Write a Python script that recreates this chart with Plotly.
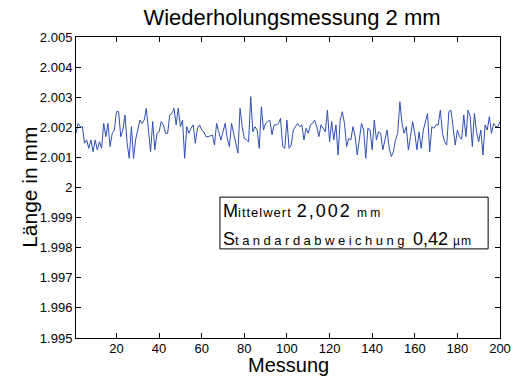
import plotly.graph_objects as go

messung = list(range(1, 201))
laenge = [
    2.0018, 2.00213, 2.00202, 2.00202, 2.00147, 2.00158, 2.0013, 2.00158, 2.00119, 2.00158,
    2.00125, 2.00152, 2.0013, 2.00213, 2.00169, 2.00213, 2.00136, 2.0018, 2.00191, 2.00252,
    2.00252, 2.00169, 2.00191, 2.00241, 2.00147, 2.00097, 2.00202, 2.00097, 2.0016, 2.00191,
    2.00224, 2.00213, 2.00224, 2.00263, 2.00191, 2.00119, 2.00219, 2.00125, 2.0018, 2.00185,
    2.00219, 2.00208, 2.0018, 2.0018, 2.00241, 2.00246, 2.00263, 2.00208, 2.00263, 2.00202,
    2.00224, 2.00097, 2.00202, 2.0018, 2.00197, 2.00208, 2.00147, 2.00197, 2.00208, 2.00191,
    2.00185, 2.00169, 2.00169, 2.00172, 2.00174, 2.00141, 2.00213, 2.00185, 2.00158, 2.00185,
    2.00213, 2.00163, 2.00136, 2.00213, 2.00185, 2.00147, 2.00114, 2.00263, 2.00202, 2.00163,
    2.00158, 2.00152, 2.00302, 2.00185, 2.00202, 2.00191, 2.0013, 2.00268, 2.00191, 2.00213,
    2.00219, 2.00224, 2.00175, 2.00208, 2.00208, 2.00213, 2.0023, 2.00136, 2.0013, 2.00224,
    2.0013, 2.00141, 2.00191, 2.00202, 2.00213, 2.00202, 2.00208, 2.00158, 2.00197, 2.0018,
    2.00208, 2.00213, 2.00224, 2.00202, 2.00169, 2.00208, 2.00197, 2.00185, 2.00257, 2.00152,
    2.00219, 2.00158, 2.00208, 2.00108, 2.00224, 2.00252, 2.00213, 2.00136, 2.00163, 2.00158,
    2.00202, 2.00169, 2.00108, 2.0016, 2.00213, 2.00191, 2.00097, 2.00197, 2.00191, 2.00125,
    2.00224, 2.00158, 2.00185, 2.0018, 2.00125, 2.00158, 2.00191, 2.0013, 2.00103, 2.0012,
    2.0016, 2.0018, 2.00285, 2.00213, 2.0018, 2.00202, 2.00125, 2.00169, 2.00219, 2.0018,
    2.00125, 2.00185, 2.0013, 2.00191, 2.00224, 2.00246, 2.00119, 2.00202, 2.00197, 2.00208,
    2.00208, 2.00257, 2.0018, 2.00152, 2.00141, 2.00252, 2.00257, 2.00191, 2.00141, 2.00191,
    2.00169, 2.0016, 2.00241, 2.00169, 2.00257, 2.00235, 2.00136, 2.00246, 2.00185, 2.00152,
    2.00191, 2.00108, 2.00208, 2.00191, 2.00235, 2.0018, 2.00213, 2.00202, 2.00202, 2.00219,
]

x_ticks = [20, 40, 60, 80, 100, 120, 140, 160, 180, 200]
y_ticks = [1.995, 1.996, 1.997, 1.998, 1.999, 2.0, 2.001, 2.002, 2.003, 2.004, 2.005]
y_ticklabels = ["1.995", "1.996", "1.997", "1.998", "1.999", "2",
                "2.001", "2.002", "2.003", "2.004", "2.005"]

title_text = "Wiederholungsmessung 2 mm"
x_title = "Messung"
y_title = "Länge in mm"
box_line1 = ("M<span style='font-size:13px;letter-spacing:1px'>ittelwert</span> "
             "<span style='letter-spacing:2px'>2,002</span> "
             "<span style='font-size:12px'>m m</span>")
box_line2 = ("S<span style='font-size:13px;letter-spacing:3.5px'>tandardabweichung</span> 0,42 "
             "<span style='font-size:12px;letter-spacing:1px'>µm</span>")

fig = go.Figure(go.Scatter(x=messung, y=laenge, mode="lines",
                           line=dict(color="#2f4fb5", width=1)))

# the page adds an 8 px offset, so the figure is 8 px smaller each way
fig.update_layout(
    width=515, height=368,
    margin=dict(l=68, r=14, t=29, b=38),
    paper_bgcolor="white", plot_bgcolor="white",
    font=dict(family="Liberation Sans, Arial, sans-serif", size=13, color="black"),
    showlegend=False,
    title=dict(text=title_text, x=284 / 515, xanchor="center",
               y=1 - 9 / 368, yanchor="middle",
               font=dict(size=22, color="black")),
)
axis_common = dict(ticks="inside", ticklen=5, tickcolor="black", tickwidth=1,
                   showline=True, linecolor="black", linewidth=1, mirror="ticks",
                   showgrid=False, zeroline=False, tickfont=dict(size=13))
fig.update_xaxes(range=[1, 200], tickvals=x_ticks, ticklabelstandoff=-2, **axis_common)
fig.update_yaxes(range=[1.995, 2.005], tickvals=y_ticks, ticktext=y_ticklabels,
                 **axis_common)

fig.add_shape(type="rect", xref="paper", yref="paper",
              x0=0.3395, x1=0.972, y0=0.296, y1=0.468,
              line=dict(color="black", width=1), fillcolor="white", layer="above")

fig.add_annotation(text=box_line1, xref="paper", yref="paper", x=0.342, y=0.4215,
                   xanchor="left", yanchor="middle", showarrow=False,
                   font=dict(size=18))
fig.add_annotation(text=box_line2, xref="paper", yref="paper", x=0.342, y=0.3285,
                   xanchor="left", yanchor="middle", showarrow=False,
                   font=dict(size=18))

fig.add_annotation(text=x_title, xref="paper", yref="paper", x=0.5, y=-0.089,
                   xanchor="center", yanchor="middle", showarrow=False,
                   font=dict(size=20))
fig.add_annotation(text=y_title, xref="paper", yref="paper", x=-0.11, y=0.5,
                   xanchor="center", yanchor="middle", showarrow=False,
                   textangle=-90, font=dict(size=21))

fig.write_html("out.html")
